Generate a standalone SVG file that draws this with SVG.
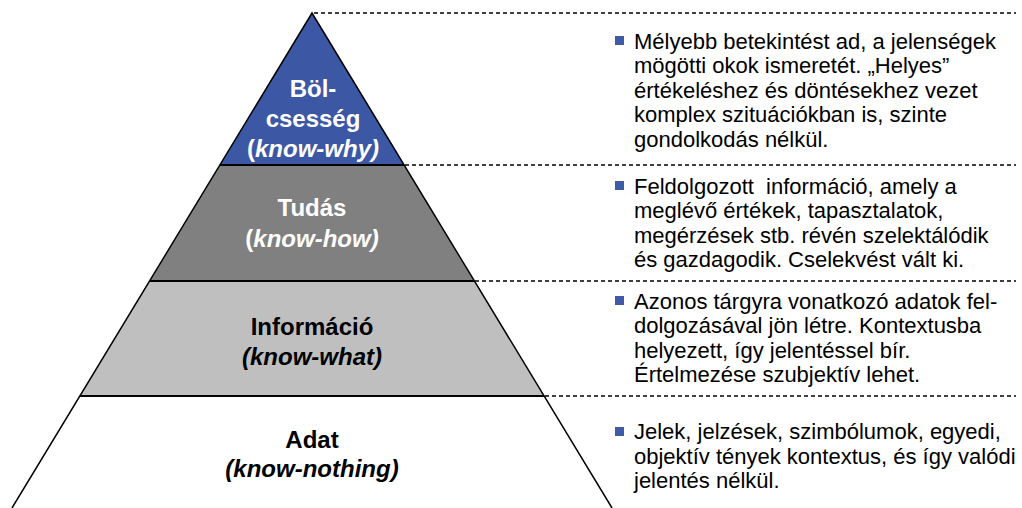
<svg xmlns="http://www.w3.org/2000/svg" width="1022" height="508" viewBox="0 0 1022 508">
<style>
.lbl{font-family:"Liberation Sans",Arial,sans-serif;font-size:24px;font-weight:bold;text-anchor:middle}
.w{fill:#ffffff}
.k{fill:#000000}
.it{font-style:italic}
.desc{font-family:"Liberation Sans",Arial,sans-serif;font-size:22px;fill:#000000}
.dash{stroke:#000000;stroke-width:1.5;stroke-dasharray:4 3;fill:none}
.sep{stroke:#000000;stroke-width:2;fill:none}
.edge{stroke:#000000;stroke-width:1.5;fill:none}
.bul{fill:#3F5AA8}
</style>
<rect width="1022" height="508" fill="#ffffff"/>
<g id="layer-wisdom">
<polygon points="312,13 220,165 404,165" fill="#3C58A4"/>
<text class="lbl w" x="313" y="97">Böl-</text>
<text class="lbl w" x="313" y="127">csesség</text>
<text class="lbl w" x="313" y="157">(<tspan class="it">know-why)</tspan></text>
</g>
<g id="layer-knowledge">
<polygon points="220,165 404,165 474,281 150,281" fill="#808080"/>
<text class="lbl w" x="312" y="216">Tudás</text>
<text class="lbl w" x="312" y="247">(<tspan class="it">know-how)</tspan></text>
</g>
<g id="layer-information">
<polygon points="150,281 474,281 544,396 80,396" fill="#BFBFBF"/>
<text class="lbl k" x="312" y="335">Információ</text>
<text class="lbl k it" x="312" y="365">(know-what)</text>
</g>
<g id="layer-data">
<polygon points="80,396 544,396 612,508 12,508" fill="#ffffff"/>
<text class="lbl k" x="312" y="448">Adat</text>
<text class="lbl k it" x="312" y="477">(know-nothing)</text>
</g>
<g id="connectors">
<line class="sep" x1="220" y1="165" x2="404" y2="165"/>
<line class="sep" x1="150" y1="281" x2="474" y2="281"/>
<line class="sep" x1="80" y1="396" x2="544" y2="396"/>
<polyline class="edge" points="12,508 312,13 612,508"/>
<line class="dash" x1="314" y1="13" x2="1016" y2="13"/>
<line class="dash" x1="405" y1="165" x2="1016" y2="165"/>
<line class="dash" x1="475" y1="281" x2="1016" y2="281"/>
<line class="dash" x1="545" y1="396" x2="1016" y2="396"/>
</g>
<g id="desc-wisdom">
<rect class="bul" x="615" y="36" width="9" height="9"/>
<text class="desc" x="634" y="48.5">Mélyebb betekintést ad, a jelenségek</text>
<text class="desc" x="634" y="73">mögötti okok ismeretét. „Helyes”</text>
<text class="desc" x="634" y="97.5">értékeléshez és döntésekhez vezet</text>
<text class="desc" x="634" y="122">komplex szituációkban is, szinte</text>
<text class="desc" x="634" y="146.5">gondolkodás nélkül.</text>
</g>
<g id="desc-knowledge">
<rect class="bul" x="615" y="181" width="9" height="9"/>
<text class="desc" x="634" y="193.5" xml:space="preserve">Feldolgozott  információ, amely a</text>
<text class="desc" x="634" y="218">meglévő értékek, tapasztalatok,</text>
<text class="desc" x="634" y="242.5">megérzések stb. révén szelektálódik</text>
<text class="desc" x="634" y="267">és gazdagodik. Cselekvést vált ki.</text>
</g>
<g id="desc-information">
<rect class="bul" x="615" y="296" width="9" height="9"/>
<text class="desc" x="634" y="308.5">Azonos tárgyra vonatkozó adatok fel-</text>
<text class="desc" x="634" y="333">dolgozásával jön létre. Kontextusba</text>
<text class="desc" x="634" y="357.5">helyezett, így jelentéssel bír.</text>
<text class="desc" x="634" y="382">Értelmezése szubjektív lehet.</text>
</g>
<g id="desc-data">
<rect class="bul" x="615" y="427" width="9" height="9"/>
<text class="desc" x="634" y="439">Jelek, jelzések, szimbólumok, egyedi,</text>
<text class="desc" x="634" y="463.5">objektív tények kontextus, és így valódi</text>
<text class="desc" x="634" y="488">jelentés nélkül.</text>
</g>
</svg>
